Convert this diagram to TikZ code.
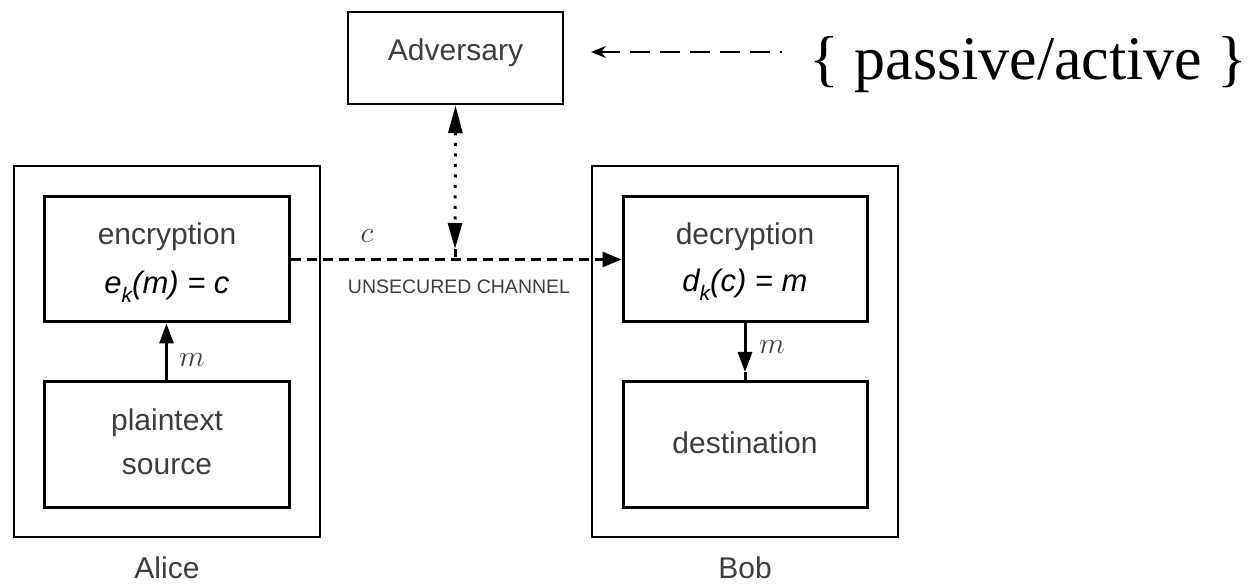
\RequirePackage{fix-cm}
\documentclass[tikz,border=0pt]{standalone}
\usepackage{fontspec}
\setmainfont{Liberation Sans}
\newfontfamily\timesfont{Liberation Serif}
\usetikzlibrary{arrows.meta}
\begin{document}
\begin{tikzpicture}[x=1pt,y=-1pt,
  box/.style={draw, line width=3pt, minimum width=245pt, minimum height=125pt, inner sep=0pt},
  outerbox/.style={draw, line width=2.5pt, minimum width=306pt, minimum height=371pt, inner sep=0pt},
  lbl/.style={text=black!76, font=\fontsize{30}{36}\selectfont, inner sep=0pt},
  eqn/.style={text=black, font=\fontsize{31}{36}\selectfont\itshape, inner sep=0pt},
  mathlbl/.style={text=black!76, font=\fontsize{30}{36}\selectfont, inner sep=0pt},
  chan/.style={text=black!76, font=\fontsize{19.5}{24}\selectfont, inner sep=0pt},
  solidarrow/.style={line width=3pt, -{Triangle[length=20pt,width=14pt]}},
  chanarrow/.style={line width=3pt, dash pattern=on 10pt off 6pt, -{Triangle[length=19pt,width=15pt]}},
  dotarrow/.style={line width=3pt, dash pattern=on 3pt off 7.5pt,
     {Triangle[length=28pt,width=14pt]}-{Triangle[length=26pt,width=14pt]}},
  adarrow/.style={line width=2pt, dash pattern=on 20pt off 10pt, {Stealth[length=15pt,width=12pt]}-}
]
\useasboundingbox (0,0) rectangle (1254,585);

% outer boxes
\node[outerbox] (alice) at (167,351.5) {};
\node[outerbox] (bob) at (745,351.5) {};

% inner boxes
\node[box] (enc) at (166.5,259.5) {};
\node[box] (src) at (166.5,444.5) {};
\node[box, minimum width=244pt] (dec) at (745,259.5) {};
\node[box, minimum width=244pt] (dst) at (745,444.5) {};
\node[draw, line width=2.5pt, minimum width=215pt, minimum height=92pt, inner sep=0pt] (adv) at (455.5,58) {};

% texts
\node[lbl] (advt) at (455.5,53) {Adversary};
\node[lbl] (enct) at (167,237) {encryption};
\node[eqn] (enceq) at (167,287) {e\raisebox{-0.28em}{\fontsize{21}{21}\selectfont k}(m) = c};
\node[lbl] (srct1) at (167,423) {plaintext};
\node[lbl] (srct2) at (167,467) {source};
\node[lbl] (dect) at (745,237) {decryption};
\node[eqn] (deceq) at (745,285) {d\raisebox{-0.28em}{\fontsize{21}{21}\selectfont k}(c) = m};
\node[lbl] (dstt) at (745,443) {destination};
\node[lbl] (alicet) at (167,568) {Alice};
\node[lbl] (bobt) at (745,568) {Bob};
\node[chan] (chant) at (459,287) {UNSECURED CHANNEL};
\node[mathlbl] (cl) at (367,236) {$c$};
\node[mathlbl] (ml1) at (192,360) {$m$};
\node[mathlbl] (ml2) at (772,347) {$m$};
\node[inner sep=0pt, anchor=base, font=\timesfont\fontsize{62}{70}\selectfont] (pa) at (1028.5,80) {\{ passive/active \}};

% connectors
\draw[solidarrow] (src.north) -- (enc.south);
\coordinate (dstin) at (745,372);
\draw[solidarrow] (dec.south) -- (dstin);
\draw[line width=3pt] (dstin) -- (dst.north);
\draw[chanarrow] (enc.east) -- (dec.west);
\coordinate (tap) at (455,257);
\coordinate (tapend) at (455,249);
\draw[dotarrow] (adv.south) -- (tapend);
\draw[line width=3pt] (tap) -- (tapend);
\coordinate (adtip) at (591,52);
\coordinate (adend) at (782,52);
\draw[adarrow] (adtip) -- (adend);
\end{tikzpicture}
\end{document}
